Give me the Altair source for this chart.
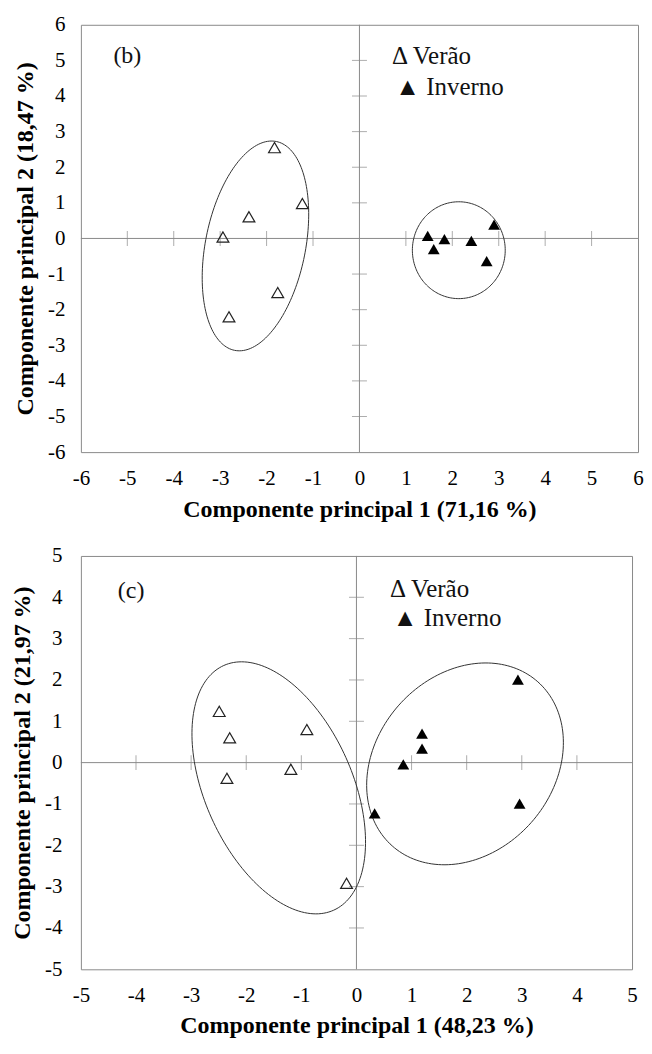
import numpy as np
import pandas as pd
import altair as alt

# ---------------- data ----------------
# panel (b)
b_verao_x = [-1.83, -1.23, -2.38, -2.94, -1.76, -2.81]
b_verao_y = [2.55, 0.98, 0.61, 0.04, -1.52, -2.20]
b_inverno_x = [1.47, 1.83, 1.60, 2.41, 2.90, 2.74]
b_inverno_y = [0.07, -0.02, -0.30, -0.07, 0.39, -0.64]
# panel (c)
c_verao_x = [-2.49, -2.30, -2.35, -0.90, -1.19, -0.18]
c_verao_y = [1.24, 0.60, -0.38, 0.80, -0.16, -2.92]
c_inverno_x = [2.93, 1.19, 1.19, 0.85, 0.33, 2.96]
c_inverno_y = [2.01, 0.70, 0.34, -0.04, -1.23, -0.99]

# ellipses: center (cx, cy) and two conjugate semi-axis vectors u, v (data units)
b_ellipses = [
    dict(cx=-2.24, cy=-0.21, ux=0.450, uy=2.932, vx=-1.055, vy=0.281),
    dict(cx=2.14, cy=-0.33, ux=1.00, uy=0.0, vx=0.0, vy=1.36),
]
c_ellipses = [
    dict(cx=-1.41, cy=-0.61, ux=0.997, uy=-2.96, vx=1.219, vy=0.731),
    dict(cx=1.97, cy=-0.03, ux=1.321, uy=1.985, vx=-1.200, vy=1.421),
]

b_ticks = [-5, -4, -3, -2, -1, 1, 2, 3, 4, 5]
c_ticks = [-4, -3, -2, -1, 1, 2, 3, 4]
b_axis_values = list(range(-6, 7))
c_axis_values = list(range(-5, 6))

b_xtitle = "Componente  principal 1 (71,16 %)"
b_ytitle = "Componente principal 2 (18,47 %)"
c_xtitle = "Componente principal 1 (48,23 %)"
c_ytitle = "Componente principal 2 (21,97 %)"

b_texts = ["(b)", "\u0394 Ver\u00e3o", "\u25b2 Inverno"]
b_text_x = [-5.30, 0.70, 0.77]
b_text_y = [5.11, 5.11, 4.26]
c_texts = ["(c)", "\u0394 Ver\u00e3o", "\u25b2 Inverno"]
c_text_x = [-4.33, 0.61, 0.66]
c_text_y = [4.14, 4.20, 3.50]
text_sizes = [24, 25, 25]

FONT = "Liberation Serif"


def ellipse_df(params):
    t = np.linspace(0, 2 * np.pi, 181)
    rows = []
    for k, p in enumerate(params):
        for i, tt in enumerate(t):
            rows.append(dict(
                eid=k, i=i,
                x=p["cx"] + p["ux"] * np.cos(tt) + p["vx"] * np.sin(tt),
                y=p["cy"] + p["uy"] * np.cos(tt) + p["vy"] * np.sin(tt)))
    return pd.DataFrame(rows)


def panel(vx, vy, ix, iy, ells, ticks, values, dom, xtitle, ytitle,
          texts, tx, ty, w, h, xlp, ylp, xtp, ytp):
    scale = alt.Scale(domain=dom, nice=False, zero=False)
    lab = "'' + datum.value"
    common = dict(labelFlush=False, labelOverlap=False, labelExpr=lab,
                  labelFont=FONT, labelFontSize=21, labelColor="#000000",
                  titleFont=FONT, titleFontSize=24, titleFontWeight="bold",
                  titleColor="#000000", grid=False, ticks=False, domain=False)
    xaxis = alt.Axis(values=values, title=xtitle, labelPadding=xlp,
                     titlePadding=xtp, **common)
    yaxis = alt.Axis(values=values, title=ytitle, labelPadding=ylp,
                     titlePadding=ytp, **common)

    def X(f):
        return alt.X(f, type="quantitative", scale=scale, axis=xaxis)

    def Y(f):
        return alt.Y(f, type="quantitative", scale=scale, axis=yaxis)

    zero = pd.DataFrame({"z": [0]})
    vrule = alt.Chart(zero).mark_rule(color="#8a8a8a", strokeWidth=1).encode(x=X("z"))
    hrule = alt.Chart(zero).mark_rule(color="#8a8a8a", strokeWidth=1).encode(y=Y("z"))

    tdf = pd.DataFrame({"t": ticks, "z": [0] * len(ticks)})
    xt = alt.Chart(tdf).mark_tick(orient="vertical", size=15, thickness=1,
                                   color="#8a8a8a").encode(x=X("t"), y=Y("z"))
    yt = alt.Chart(tdf).mark_tick(orient="horizontal", size=15, thickness=1,
                                   color="#8a8a8a").encode(x=X("z"), y=Y("t"))

    edf = ellipse_df(ells)
    ell = alt.Chart(edf).mark_line(color="#333333", strokeWidth=1).encode(
        x=X("x"), y=Y("y"), detail="eid:N", order="i:Q")

    vdf = pd.DataFrame({"x": vx, "y": vy})
    idf = pd.DataFrame({"x": ix, "y": iy})
    opn = alt.Chart(vdf).mark_point(shape="triangle-up", size=140, filled=False,
                                    color="#222222", strokeWidth=1.2, opacity=1).encode(
        x=X("x"), y=Y("y"))
    fil = alt.Chart(idf).mark_point(shape="triangle-up", size=140, filled=True,
                                    color="#000000", opacity=1).encode(
        x=X("x"), y=Y("y"))

    txdf = pd.DataFrame({"label": texts, "x": tx, "y": ty, "s": text_sizes})
    txt = alt.Chart(txdf).mark_text(align="left", baseline="middle", font=FONT,
                                    color="#111111").encode(
        x=X("x"), y=Y("y"), text="label:N",
        size=alt.Size("s:Q", scale=None, legend=None))

    return alt.layer(vrule, hrule, xt, yt, ell, opn, fil, txt).properties(
        width=w, height=h)


top = panel(b_verao_x, b_verao_y, b_inverno_x, b_inverno_y, b_ellipses,
            b_ticks, b_axis_values, [-6, 6], b_xtitle, b_ytitle,
            b_texts, b_text_x, b_text_y, 558, 428, 15, 16, 9, 10)
bot = panel(c_verao_x, c_verao_y, c_inverno_x, c_inverno_y, c_ellipses,
            c_ticks, c_axis_values, [-5, 5], c_xtitle, c_ytitle,
            c_texts, c_text_x, c_text_y, 552, 414, 15, 19, 8, 10)

chart = alt.vconcat(top, bot, spacing=22).properties(
    padding={"left": 2, "top": 4, "right": 0, "bottom": 0}
).configure_view(stroke="#8a8a8a", strokeWidth=1)

chart.save("out.html", embed_options={"renderer": "svg", "actions": False})
